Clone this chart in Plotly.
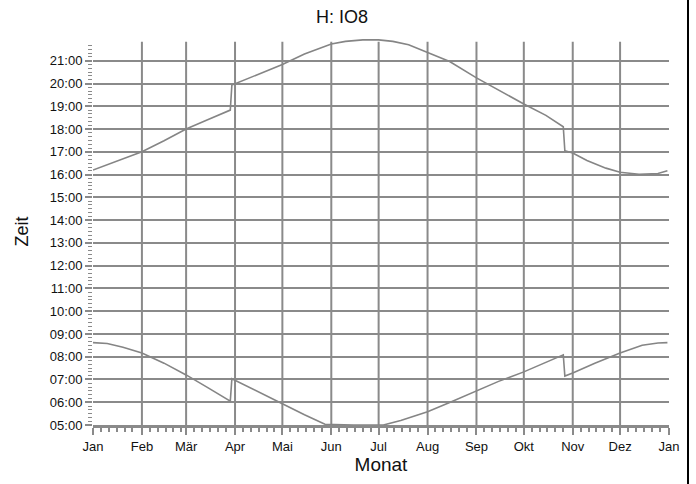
import plotly.graph_objects as go

# ---- data ----
sunset_dates = ["2023-01-01", "2023-01-15", "2023-02-01", "2023-02-15", "2023-03-01", "2023-03-15",
                "2023-03-29", "2023-03-30", "2023-04-15", "2023-05-01", "2023-05-15", "2023-06-01",
                "2023-06-10", "2023-06-21", "2023-07-01", "2023-07-10", "2023-07-20", "2023-08-01",
                "2023-08-15", "2023-09-01", "2023-09-15", "2023-10-01", "2023-10-15", "2023-10-26",
                "2023-10-27", "2023-11-01", "2023-11-10", "2023-11-22", "2023-12-01", "2023-12-13",
                "2023-12-25", "2023-12-31"]
sunset_times = ["16:12", "16:34", "17:00", "17:29", "18:00", "18:25",
                "18:50", "19:56", "20:24", "20:50", "21:18", "21:44",
                "21:51", "21:55", "21:55", "21:51", "21:42", "21:22",
                "20:58", "20:15", "19:42", "19:06", "18:36", "18:06",
                "17:03", "16:57", "16:37", "16:17", "16:06", "16:01",
                "16:03", "16:10"]

sunrise_dates = ["2023-01-01", "2023-01-10", "2023-01-20", "2023-02-01", "2023-02-15", "2023-03-01",
                 "2023-03-15", "2023-03-29", "2023-03-30", "2023-04-15", "2023-05-01", "2023-05-15",
                 "2023-05-28", "2023-06-15", "2023-07-04", "2023-07-15", "2023-08-01", "2023-08-15",
                 "2023-09-01", "2023-09-15", "2023-10-01", "2023-10-15", "2023-10-26", "2023-10-27",
                 "2023-11-01", "2023-11-15", "2023-12-01", "2023-12-15", "2023-12-25", "2023-12-31"]
sunrise_times = ["08:37", "08:35", "08:25", "08:10", "07:43", "07:12",
                 "06:38", "06:03", "07:02", "06:28", "05:56", "05:27",
                 "05:02", "05:00", "05:00", "05:12", "05:35", "05:59",
                 "06:30", "06:55", "07:20", "07:45", "08:05", "07:09",
                 "07:17", "07:43", "08:10", "08:30", "08:36", "08:37"]

month_ticks = ["2023-01-01", "2023-02-01", "2023-03-01", "2023-04-01", "2023-05-01", "2023-06-01",
               "2023-07-01", "2023-08-01", "2023-09-01", "2023-10-01", "2023-11-01", "2023-12-01",
               "2024-01-01"]
month_labels = ["Jan", "Feb", "Mär", "Apr", "Mai", "Jun", "Jul", "Aug", "Sep", "Okt", "Nov", "Dez", "Jan"]

hour_ticks = list(range(5, 22))
hour_labels = ["05:00", "06:00", "07:00", "08:00", "09:00", "10:00", "11:00", "12:00", "13:00",
               "14:00", "15:00", "16:00", "17:00", "18:00", "19:00", "20:00", "21:00"]

title_text = "H: IO8"
x_title = "Monat"
y_title = "Zeit"


def to_hours(s):
    h, m = s.split(":")
    return int(h) + int(m) / 60.0


LINE = "#858585"
GRID = "#8a8a8a"
TXT = "#111111"
font = "Arial, Liberation Sans, sans-serif"

fig = go.Figure()
fig.add_trace(go.Scatter(x=sunset_dates, y=[to_hours(t) for t in sunset_times], mode="lines",
                         line=dict(color=LINE, width=1.6), showlegend=False, hoverinfo="skip"))
fig.add_trace(go.Scatter(x=sunrise_dates, y=[to_hours(t) for t in sunrise_times], mode="lines",
                         line=dict(color=LINE, width=1.6), showlegend=False, hoverinfo="skip"))

# minor x ticks (5 per month)
minor_x = []
for mt in month_ticks[:-1]:
    for d in (6, 11, 16, 21, 26):
        minor_x.append(mt[:8] + "%02d" % d)

# minor y ticks every 10 minutes
minor_y = [h + k / 6 for h in hour_ticks[:-1] for k in range(1, 6)] + [21 + k / 6 for k in range(1, 5)]

# vertical grid lines at interior months, ending at the top of the tick range
shapes = []
for mt in month_ticks[1:-1]:
    shapes.append(dict(type="line", xref="x", yref="y", x0=mt, x1=mt, y0=5, y1=21.83,
                       layer="below", line=dict(color=GRID, width=2)))
# window frame line on the right
shapes.append(dict(type="line", xref="paper", yref="paper",
                   x0=(688 - 93) / 576, x1=(688 - 93) / 576, y0=-59 / 387, y1=1 + 38 / 387,
                   line=dict(color="black", width=2)))

fig.update_layout(
    width=696, height=484,
    margin=dict(l=93, r=27, t=38, b=59, autoexpand=False),
    paper_bgcolor="white", plot_bgcolor="white",
    font=dict(family=font, color=TXT, size=13),
    title=dict(text=title_text, x=342 / 696, xanchor="center", y=1 - 16.5 / 484, yanchor="middle",
               font=dict(size=18, family=font, color=TXT)),
    xaxis=dict(
        type="date", range=["2023-01-01", "2024-01-01"],
        tickmode="array", tickvals=month_ticks, ticktext=month_labels,
        showgrid=False, automargin=False,
        showline=True, linecolor=GRID, linewidth=3,
        ticks="outside", ticklen=7, tickwidth=2, tickcolor=GRID,
        minor=dict(tickmode="array", tickvals=minor_x, ticks="outside", ticklen=4,
                   tickwidth=1.5, tickcolor=GRID, showgrid=False),
        tickfont=dict(size=13, family=font, color=TXT),
        title=dict(text=x_title, font=dict(size=19, family=font, color=TXT), standoff=6),
        zeroline=False,
    ),
    yaxis=dict(
        range=[5, 22], automargin=False,
        tickmode="array", tickvals=hour_ticks, ticktext=hour_labels,
        showgrid=True, gridcolor=GRID, gridwidth=2,
        showline=False,
        ticks="outside", ticklen=7, tickwidth=2, tickcolor=GRID,
        minor=dict(tickmode="array", tickvals=minor_y,
                   ticks="outside", ticklen=4, tickwidth=1.2, tickcolor=GRID, showgrid=False),
        tickfont=dict(size=13, family=font, color=TXT),
        title=dict(text=y_title, font=dict(size=18, family=font, color=TXT), standoff=16),
        zeroline=False,
    ),
    shapes=shapes,
)

fig.write_html("out.html", config={"displayModeBar": False},
               post_script="document.body.style.margin='0';")
